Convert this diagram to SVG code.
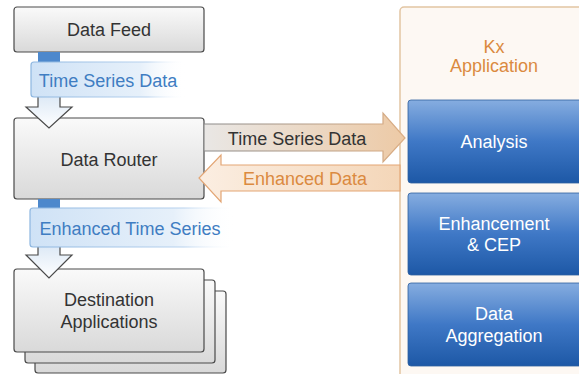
<svg xmlns="http://www.w3.org/2000/svg" width="579" height="374" viewBox="0 0 579 374">
<defs>
<linearGradient id="gray" x1="0" y1="0" x2="0" y2="1"><stop offset="0" stop-color="#fafafa"/><stop offset="1" stop-color="#d9d9d9"/></linearGradient>
<linearGradient id="blue" x1="0" y1="0" x2="0" y2="1"><stop offset="0" stop-color="#86ade0"/><stop offset="0.5" stop-color="#3f78c6"/><stop offset="1" stop-color="#1d58a6"/></linearGradient>
<linearGradient id="lbl" x1="0" y1="0" x2="1" y2="0"><stop offset="0" stop-color="#cfe2f6"/><stop offset="0.7" stop-color="#e6f0fa"/><stop offset="1" stop-color="#ffffff" stop-opacity="0"/></linearGradient>
<linearGradient id="lblS" x1="0" y1="0" x2="1" y2="0"><stop offset="0" stop-color="#8db6e0"/><stop offset="0.75" stop-color="#b8d2ee"/><stop offset="1" stop-color="#ffffff" stop-opacity="0"/></linearGradient>
<linearGradient id="hollow" x1="0" y1="0" x2="0" y2="1"><stop offset="0" stop-color="#dde9f6"/><stop offset="1" stop-color="#ffffff"/></linearGradient>
<linearGradient id="tsd" x1="0" y1="0" x2="1" y2="0"><stop offset="0" stop-color="#e9e7e5"/><stop offset="1" stop-color="#edcaa6"/></linearGradient>
<linearGradient id="tsdS" x1="0" y1="0" x2="1" y2="0"><stop offset="0" stop-color="#8a8a8a"/><stop offset="1" stop-color="#dcae84"/></linearGradient>
<linearGradient id="enh" x1="0" y1="0" x2="1" y2="0"><stop offset="0" stop-color="#fbeee2"/><stop offset="1" stop-color="#f4d6b8"/></linearGradient>
</defs>
<style>
.box{fill:url(#gray);stroke:#4a4a4a;stroke-width:1.2}
.blue{fill:url(#blue);stroke:#2d5f9e;stroke-width:0.8}
.t{font-family:"Liberation Sans",Arial,sans-serif;font-size:18px;text-anchor:middle}
.dark{fill:#333333}
.lblt{fill:#3f7dc2}
.org{fill:#db8a40}
.wht{fill:#ffffff}
.stem{fill:#4d88cc}
.lblbox{fill:url(#lbl);stroke:url(#lblS);stroke-width:1.2}
.hollow{fill:url(#hollow);stroke:#4a4a4a;stroke-width:1.2}
</style>
<g id="kx-application">
<rect x="400" y="7" width="200" height="380" rx="4" fill="#fdf8f3" stroke="#e2c5a3" stroke-width="1.5"/>
<text class="t org" x="494" y="53">Kx</text>
<text class="t org" x="494" y="72">Application</text>
</g>
<g id="analysis">
<rect class="blue" x="408" y="100" width="178" height="83" rx="3"/>
<text class="t wht" x="494" y="148">Analysis</text>
</g>
<g id="enhancement">
<rect class="blue" x="408" y="193" width="178" height="82" rx="3"/>
<text class="t wht" x="494" y="230">Enhancement</text>
<text class="t wht" x="494" y="251">&amp; CEP</text>
</g>
<g id="aggregation">
<rect class="blue" x="408" y="283" width="178" height="83" rx="3"/>
<text class="t wht" x="494" y="320">Data</text>
<text class="t wht" x="494" y="342">Aggregation</text>
</g>
<g id="data-feed">
<rect class="box" x="14" y="7" width="190" height="45" rx="3"/>
<text class="t dark" x="109" y="36">Data Feed</text>
</g>
<g id="data-router">
<rect class="box" x="14" y="118" width="190" height="81" rx="3"/>
<text class="t dark" x="109" y="166">Data Router</text>
</g>
<g id="destination-applications">
<rect class="box" x="35" y="291" width="191" height="82" rx="3"/>
<rect class="box" x="25" y="280" width="190" height="83" rx="3"/>
<rect class="box" x="14" y="269" width="190" height="83" rx="3"/>
<text class="t dark" x="109" y="306">Destination</text>
<text class="t dark" x="109" y="328">Applications</text>
</g>
<g id="connectors">
<rect class="stem" x="38" y="52" width="22" height="12"/>
<path class="hollow" d="M38,96 L38,107 L26,107 L49,128 L72,107 L60,107 L60,96 Z"/>
<rect class="lblbox" x="31" y="62" width="155" height="35" rx="3"/>
<text class="t lblt" x="108" y="87">Time Series Data</text>
<rect class="stem" x="38" y="199" width="22" height="10"/>
<path class="hollow" d="M38,246 L38,255 L26,255 L49,278 L72,255 L60,255 L60,246 Z"/>
<rect class="lblbox" x="30" y="208" width="205" height="39" rx="3"/>
<text class="t lblt" x="130" y="235">Enhanced Time Series</text>
<path d="M204,124 L383,124 L383,113 L405,138 L383,162 L383,151 L204,151 Z" fill="url(#tsd)" stroke="url(#tsdS)" stroke-width="1.2"/>
<text class="t dark" x="297" y="145">Time Series Data</text>
<path d="M400,165 L221,165 L221,155 L199,178 L221,202 L221,191 L400,191 Z" fill="url(#enh)" stroke="#e3a675" stroke-width="1.2"/>
<text class="t org" x="305" y="185">Enhanced Data</text>
</g>
</svg>
